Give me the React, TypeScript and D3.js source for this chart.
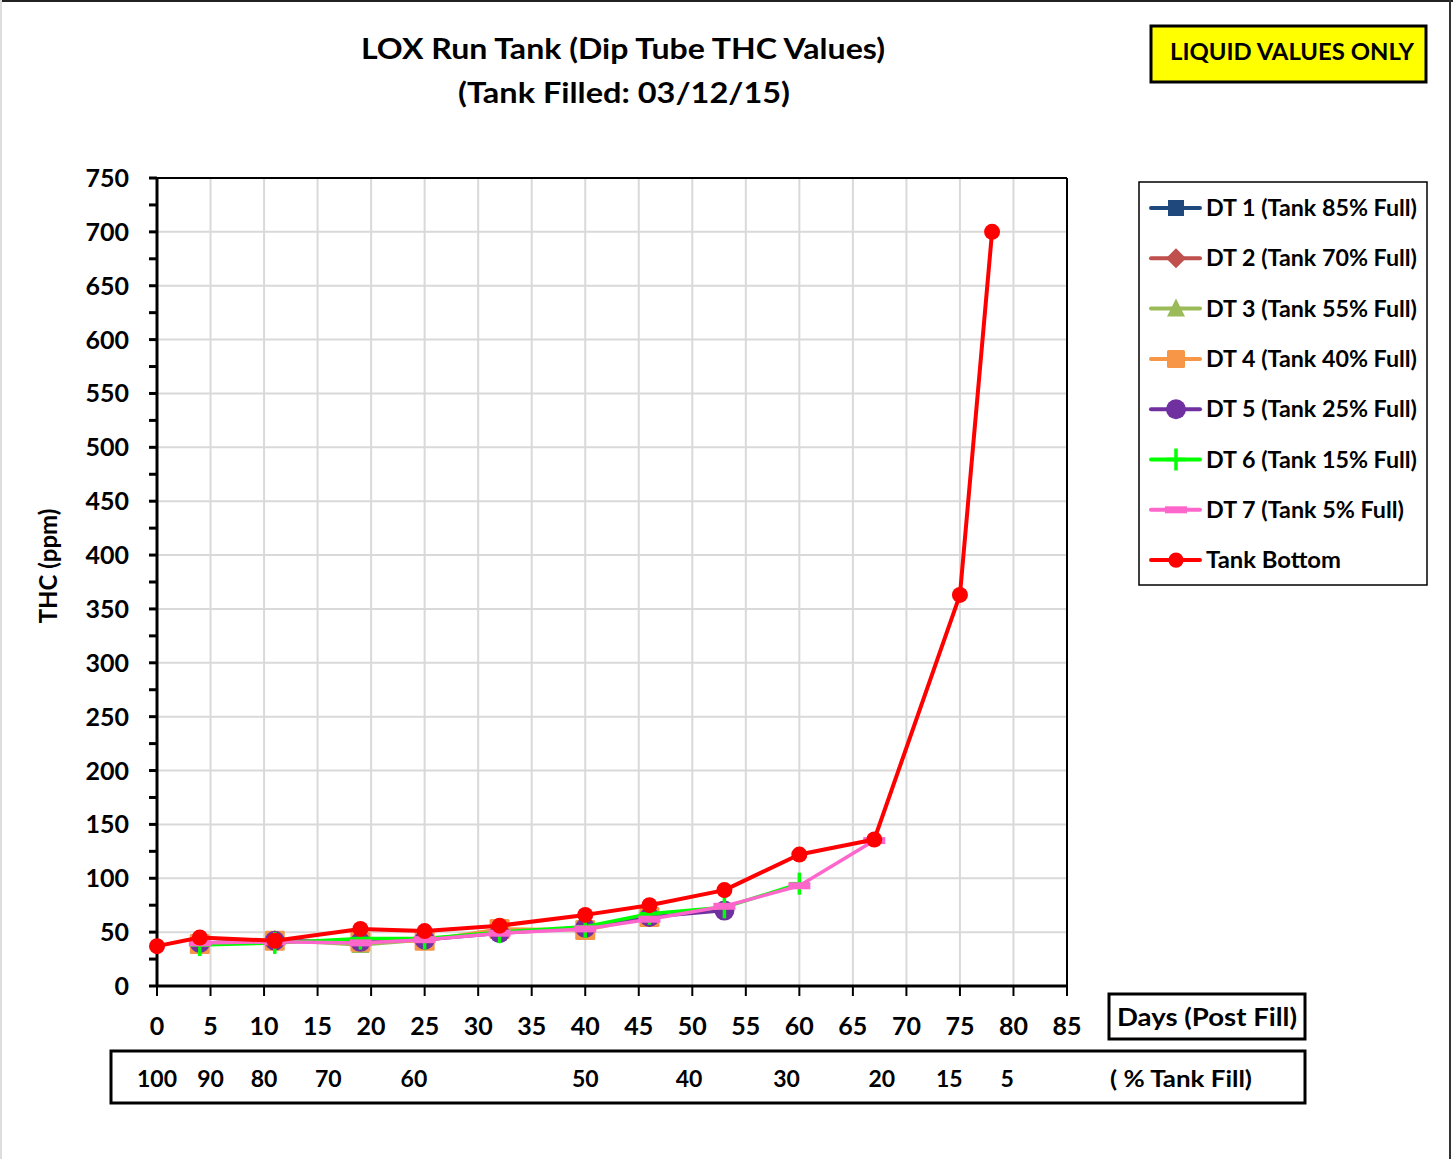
import React from "react";
import * as d3 from "d3";

const TITLE1 = "LOX Run Tank (Dip Tube THC Values)";
const TITLE2 = "(Tank  Filled: 03/12/15)";
const Y_TICKS = [0, 50, 100, 150, 200, 250, 300, 350, 400, 450, 500, 550, 600, 650, 700, 750];
const X_TICKS = [0, 5, 10, 15, 20, 25, 30, 35, 40, 45, 50, 55, 60, 65, 70, 75, 80, 85];
const FILL_LABELS = ["100", "90", "80", "70", "60", "50", "40", "30", "20", "15", "5"];
const FILL_DAYS = [0, 5, 10, 16, 24, 40, 49.7, 58.8, 67.7, 74, 79.4];

const TB_DAYS = [0, 4, 11, 19, 25, 32, 40, 46, 53, 60, 67, 75, 78];
const TB_VALUES = [37, 45, 42, 53, 51, 56, 66, 75, 89, 122, 136, 363, 700];

const DT_DAYS = [4, 11, 19, 25, 32, 40, 46, 53, 60, 67];
const DT1 = [40];
const DT2 = [40, 41];
const DT3 = [39, 43, 38, 43];
const DT4 = [39, 42, 41, 42, 53, 52, 64];
const DT5 = [40, 42, 41, 43, 49, 54, 64, 70];
const DT6 = [38, 40, 44, 44, 50, 55, 67, 73, 95];
const DT7 = [40, 41, 40, 43, 49, 53, 62, 74, 93, 135];

const SERIES_NAMES = [
  "DT 1 (Tank 85% Full)",
  "DT 2 (Tank 70% Full)",
  "DT 3 (Tank 55% Full)",
  "DT 4 (Tank 40% Full)",
  "DT 5 (Tank 25% Full)",
  "DT 6 (Tank 15% Full)",
  "DT 7 (Tank 5% Full)",
  "Tank Bottom",
];
const SERIES_COLORS = ["#1F497D", "#C0504D", "#9BBB59", "#F79646", "#7030A0", "#00FF00", "#FF66CC", "#FF0000"];
const SERIES_MARKERS = ["square", "diamond", "triangle", "bigsquare", "circle", "plus", "dash", "dot"];

const FONT = "Lato, 'Open Sans', sans-serif";

function Marker({ type, x, y, color, s = 1 }: { type: string; x: number; y: number; color: string; s?: number }) {
  switch (type) {
    case "square":
      return <rect x={x - 8 * s} y={y - 8 * s} width={16 * s} height={16 * s} fill={color} />;
    case "bigsquare":
      return <rect x={x - 10 * s} y={y - 10 * s} width={20 * s} height={20 * s} fill={color} rx={1.5} />;
    case "diamond":
      return <path d={`M${x},${y - 10 * s}L${x + 10 * s},${y}L${x},${y + 10 * s}L${x - 10 * s},${y}Z`} fill={color} />;
    case "triangle":
      return <path d={`M${x},${y - 10 * s}L${x + 9 * s},${y + 8 * s}L${x - 9 * s},${y + 8 * s}Z`} fill={color} />;
    case "circle":
      return <circle cx={x} cy={y} r={10 * s} fill={color} />;
    case "plus":
      return (
        <g stroke={color} strokeWidth={3.5}>
          <line x1={x - 10 * s} x2={x + 10 * s} y1={y} y2={y} />
          <line x1={x} x2={x} y1={y - 11 * s} y2={y + 11 * s} />
        </g>
      );
    case "dash":
      return <rect x={x - 11 * s} y={y - 3.5} width={22 * s} height={7} fill={color} />;
    case "dot":
      return <circle cx={x} cy={y} r={8 * s} fill={color} />;
    default:
      return null;
  }
}

export default function App() {
  const W = 1453;
  const H = 1159;
  const left = 157, right = 1067, top = 178, bottom = 986;
  const x = d3.scaleLinear().domain([0, 85]).range([left, right]);
  const y = d3.scaleLinear().domain([0, 750]).range([bottom, top]);
  const line = d3
    .line<[number, number]>()
    .x((d) => x(d[0]))
    .y((d) => y(d[1]));

  const dtValues = [DT1, DT2, DT3, DT4, DT5, DT6, DT7];
  const series = [
    ...dtValues.map((vals) => vals.map((v, i) => [DT_DAYS[i], v] as [number, number])),
    TB_VALUES.map((v, i) => [TB_DAYS[i], v] as [number, number]),
  ];
  const minorTicks = d3.range(0, 751, 25);

  return (
    <svg width={W} height={H} style={{ position: "absolute", left: 0, top: 0, background: "#fff" }} fontFamily={FONT}>
      <rect x={0} y={0} width={W} height={H} fill="#fff" />
      {/* outer frame */}
      <line x1={0} x2={W} y1={1} y2={1} stroke="#222" strokeWidth={2} />
      <line x1={1} x2={1} y1={0} y2={H} stroke="#ddd" strokeWidth={2} />
      <line x1={1450} x2={1450} y1={0} y2={H} stroke="#333" strokeWidth={2} />

      {/* titles */}
      <text x={623} y={59} textAnchor="middle" fontSize={29} fontWeight="bold" textLength={524} lengthAdjust="spacingAndGlyphs">
        {TITLE1}
      </text>
      <text x={624} y={103} textAnchor="middle" fontSize={29} fontWeight="bold" textLength={332} lengthAdjust="spacingAndGlyphs">
        {TITLE2}
      </text>

      {/* liquid values box */}
      <rect x={1151} y={26} width={275} height={56} fill="#FFFF00" stroke="#000" strokeWidth={3} />
      <text x={1292} y={60} textAnchor="middle" fontSize={22} fontWeight="bold" textLength={244} lengthAdjust="spacingAndGlyphs">
        LIQUID VALUES ONLY
      </text>

      {/* gridlines */}
      {Y_TICKS.filter((t) => t > 0 && t < 750).map((t) => (
        <line key={"gy" + t} x1={left} x2={right} y1={y(t)} y2={y(t)} stroke="#d9d9d9" strokeWidth={2} />
      ))}
      {X_TICKS.filter((t) => t > 0 && t < 85).map((t) => (
        <line key={"gx" + t} x1={x(t)} x2={x(t)} y1={top} y2={bottom} stroke="#d9d9d9" strokeWidth={2} />
      ))}
      {/* plot border top/right */}
      <line x1={left} x2={right} y1={top} y2={top} stroke="#000" strokeWidth={2} />
      <line x1={right} x2={right} y1={top} y2={bottom} stroke="#000" strokeWidth={2} />

      {/* y axis */}
      <line x1={left} x2={left} y1={top - 1} y2={bottom + 1} stroke="#000" strokeWidth={3} />
      {minorTicks.map((t) => (
        <line key={"ty" + t} x1={left - 8} x2={left} y1={y(t)} y2={y(t)} stroke="#000" strokeWidth={3} />
      ))}
      {Y_TICKS.map((t) => (
        <text key={"ly" + t} x={129} y={y(t) + 9} textAnchor="end" fontSize={25} fontWeight="bold">
          {t}
        </text>
      ))}
      <text transform="translate(57,566) rotate(-90)" textAnchor="middle" fontSize={24} fontWeight="bold">
        THC (ppm)
      </text>

      {/* x axis */}
      <line x1={left - 1} x2={right + 1} y1={bottom} y2={bottom} stroke="#000" strokeWidth={3} />
      {X_TICKS.map((t) => (
        <line key={"tx" + t} x1={x(t)} x2={x(t)} y1={bottom} y2={bottom + 10} stroke="#000" strokeWidth={2} />
      ))}
      {X_TICKS.map((t) => (
        <text key={"lx" + t} x={x(t)} y={1035} textAnchor="middle" fontSize={25} fontWeight="bold">
          {t}
        </text>
      ))}
      <rect x={1109} y={994} width={196} height={45} fill="none" stroke="#000" strokeWidth={3} />
      <text x={1207} y={1026} textAnchor="middle" fontSize={25} fontWeight="bold" textLength={180} lengthAdjust="spacingAndGlyphs">
        Days (Post Fill)
      </text>

      <rect x={111} y={1051} width={1194} height={52} fill="none" stroke="#000" strokeWidth={3} />
      {FILL_LABELS.map((l, i) => (
        <text key={"fl" + i} x={x(FILL_DAYS[i])} y={1087} textAnchor="middle" fontSize={23} fontWeight="bold">
          {l}
        </text>
      ))}
      <text x={1110} y={1087} fontSize={23} fontWeight="bold" textLength={142} lengthAdjust="spacingAndGlyphs">
        ( % Tank Fill)
      </text>

      {/* series */}
      {series.map((pts, si) => (
        <g key={"s" + si}>
          <path d={line(pts) || ""} fill="none" stroke={SERIES_COLORS[si]} strokeWidth={si === 7 ? 4 : 3.5} strokeLinejoin="round" />
          {pts.map((p, i) => (
            <Marker key={i} type={SERIES_MARKERS[si]} x={x(p[0])} y={y(p[1])} color={SERIES_COLORS[si]} />
          ))}
        </g>
      ))}

      {/* legend */}
      <rect x={1139} y={182} width={288} height={403} fill="#fff" stroke="#000" strokeWidth={1.5} />
      {SERIES_NAMES.map((name, i) => {
        const ly = 208 + i * 50.3;
        return (
          <g key={"lg" + i}>
            <line x1={1151} x2={1200} y1={ly} y2={ly} stroke={SERIES_COLORS[i]} strokeWidth={4} strokeLinecap="round" />
            <Marker type={SERIES_MARKERS[i]} x={1176} y={ly} color={SERIES_COLORS[i]} s={i === 3 ? 0.9 : i === 7 ? 0.95 : 1} />
            <text x={1206} y={ly + 8} fontSize={22} fontWeight="bold" textLength={i === 6 ? 198 : i === 7 ? 135 : 211} lengthAdjust="spacingAndGlyphs">
              {name}
            </text>
          </g>
        );
      })}
    </svg>
  );
}
